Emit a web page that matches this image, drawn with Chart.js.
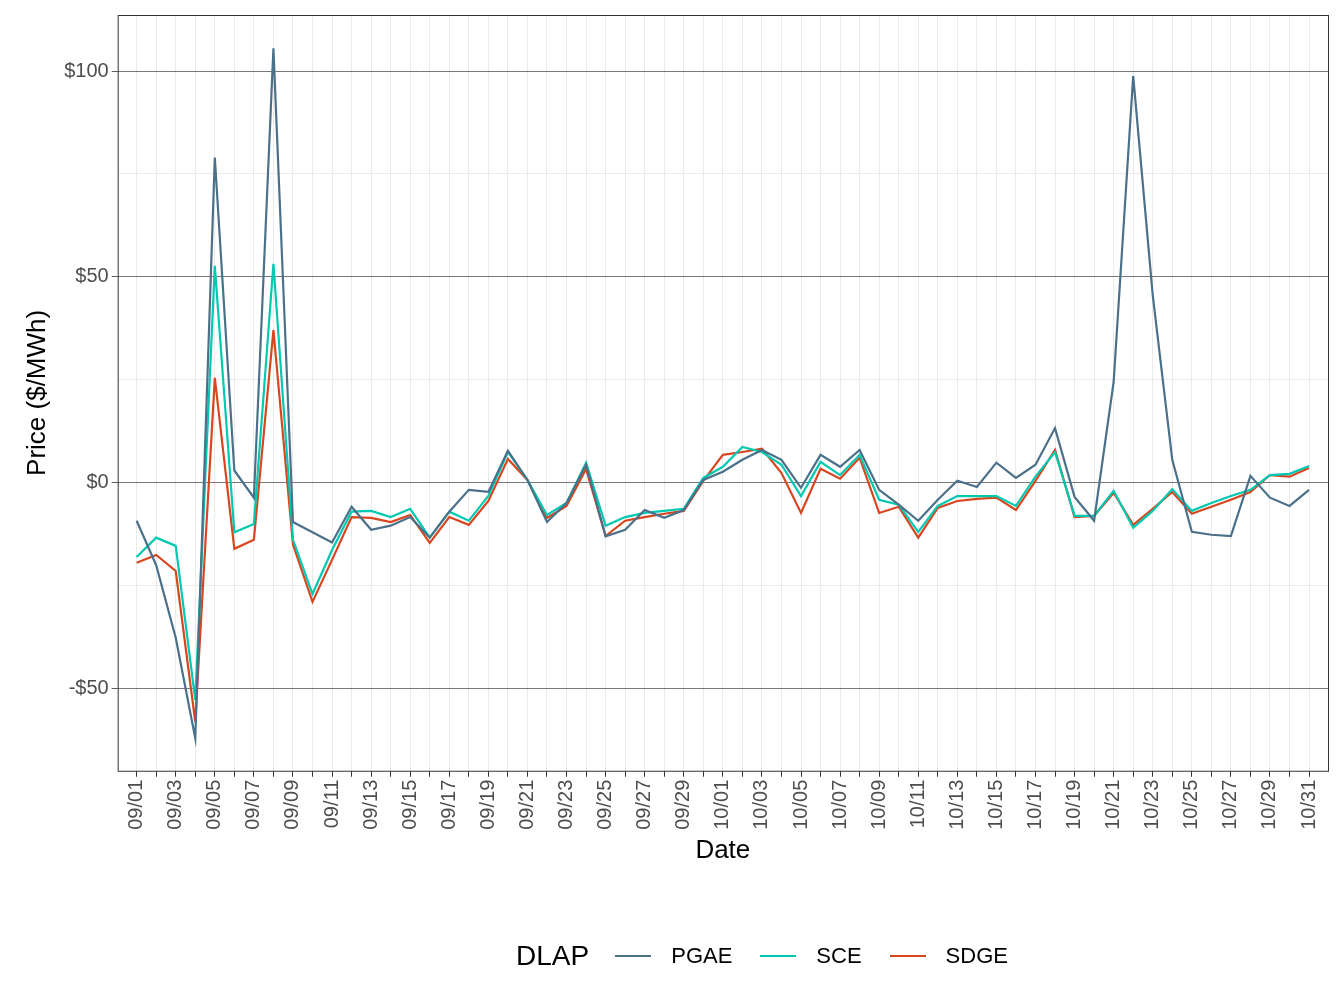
<!DOCTYPE html>
<html><head><meta charset="utf-8">
<script src="https://cdn.jsdelivr.net/npm/chart.js@4"></script>
<style>
body{margin:0;background:#fff;font-family:"Liberation Sans",Arial,sans-serif}
#wrap{position:relative;width:1344px;height:1008px}
#leg{position:absolute;top:940px;left:90px;width:1344px;display:flex;justify-content:center;align-items:center;font-size:22px;color:#000}
#leg span.t{font-size:28px;margin-right:16px}
#leg i{display:inline-block;width:36px;height:2.5px;margin:0 20px 0 10px}
</style></head><body>
<div id="wrap"><canvas id="c" width="1344" height="1008"></canvas>
<div id="leg"><span class="t">DLAP</span><i style="background:#4a7189"></i>PGAE<i style="background:#00c9b1;margin-left:28px"></i>SCE<i style="background:#d8461f;margin-left:28px"></i>SDGE</div></div>
<script>
const startDate = new Date(2021,8,1);
const dayCount = 61;
const pgae = [-9.2,-20,-37.6,-62,79,3,-3.6,105.5,-9.5,-12,-14.5,-5.8,-11.4,-10.4,-8.3,-13.3,-7,-1.7,-2.2,7.8,0.7,-9.5,-4.9,4.4,-13,-11.4,-6.6,-8.5,-6.6,0.7,2.7,5.6,8,5.6,-1.2,6.8,3.9,8,-1.7,-5.3,-9.2,-4.1,0.5,-1,4.9,1.2,4.4,13.3,-3.4,-9.2,24.5,98.8,45.6,5.6,-11.9,-12.6,-12.9,1.7,-3.6,-5.6,-1.7];
const sce = [-18,-13.3,-15.3,-52.7,52.7,-12,-10,53.2,-13.8,-27,-16.3,-7,-6.8,-8.3,-6.3,-13.3,-7,-9.2,-3.2,7.5,0.7,-7.8,-4.9,4.9,-10.4,-8.3,-7.3,-6.8,-6.3,1.2,3.9,8.7,7.5,4.4,-3.2,5.1,1.9,6.8,-4.1,-5.3,-11.9,-5.6,-3.2,-3.2,-3.2,-5.6,1.5,7.5,-8,-8,-1.9,-10.9,-6.8,-1.5,-6.8,-4.9,-3.2,-1.7,1.9,2.2,4.1];
const sdge = [-19.4,-17.5,-21.4,-58,25.5,-16,-13.8,37.1,-15,-28.9,-18.7,-8.3,-8.5,-9.5,-7.8,-14.6,-8.3,-10.2,-4.4,5.8,0.7,-8.5,-5.6,3.4,-12.9,-9.2,-8.3,-7.5,-6.8,0.5,6.8,7.5,8.3,2.4,-7.3,3.4,1,6.1,-7.3,-5.8,-13.3,-6.1,-4.4,-3.9,-3.6,-6.6,0.5,8,-8.3,-8,-2.4,-10.2,-6.3,-2.2,-7.5,-5.8,-4.1,-2.2,1.9,1.5,3.6];
const dateLabels = Array.from({length:dayCount},(_,i)=>{const d=new Date(startDate);d.setDate(d.getDate()+i);return String(d.getMonth()+1).padStart(2,'0')+'/'+String(d.getDate()).padStart(2,'0');});
const pts = a => a.map((v,i)=>({x:i,y:v}));
const frame={id:'frame',afterDraw(c){const a=c.chartArea,g=c.ctx;g.save();g.strokeStyle='#333';g.lineWidth=1;g.strokeRect(a.left+.5,a.top+.5,a.right-a.left,a.bottom-a.top);g.restore();}};
new Chart(document.getElementById('c'),{type:'line',
data:{datasets:[
{label:'PGAE',data:pts(pgae),borderColor:'#4a7189',borderWidth:2.2,pointRadius:0,tension:0},
{label:'SCE',data:pts(sce),borderColor:'#00c9b1',borderWidth:2.2,pointRadius:0,tension:0},
{label:'SDGE',data:pts(sdge),borderColor:'#d8461f',borderWidth:2.2,pointRadius:0,tension:0}]},
options:{responsive:false,animation:false,
layout:{padding:{top:15,right:16,bottom:138,left:18}},
plugins:{legend:{display:false},tooltip:{enabled:false}},
scales:{
x:{type:'linear',min:-0.97,max:60.97,afterBuildTicks(s){s.ticks=dateLabels.map((_,i)=>({value:i}));},
 grid:{color:'#ebebeb',lineWidth:1,drawTicks:true,tickLength:6,tickColor:'#333'},border:{display:false},
 ticks:{autoSkip:false,maxRotation:90,minRotation:90,color:'#4d4d4d',font:{size:20,family:'Liberation Sans'},callback:(v)=>v%2===0?dateLabels[v]:''},
 title:{display:true,text:'Date',color:'#000',font:{size:26,family:'Liberation Sans'},padding:{top:2}}},
y:{min:-69.9,max:113.6,afterBuildTicks(s){s.ticks=[-50,-25,0,25,50,75,100].map(v=>({value:v}));},
 grid:{color:c=>c.tick&&c.tick.value%50===0?'#555':'#ebebeb',lineWidth:c=>c.tick&&c.tick.value%50===0?0.8:1,tickLength:6,tickColor:c=>c.tick&&c.tick.value%50===0?'#333':'rgba(0,0,0,0)'},border:{display:false},
 ticks:{color:'#4d4d4d',font:{size:20,family:'Liberation Sans'},callback:v=>v%50!==0?'':(v<0?'-$'+(-v):'$'+v)},
 title:{display:true,text:'Price ($/MWh)',color:'#000',font:{size:26,family:'Liberation Sans'},padding:{bottom:8}}}}},
plugins:[frame]});
</script></body></html>
